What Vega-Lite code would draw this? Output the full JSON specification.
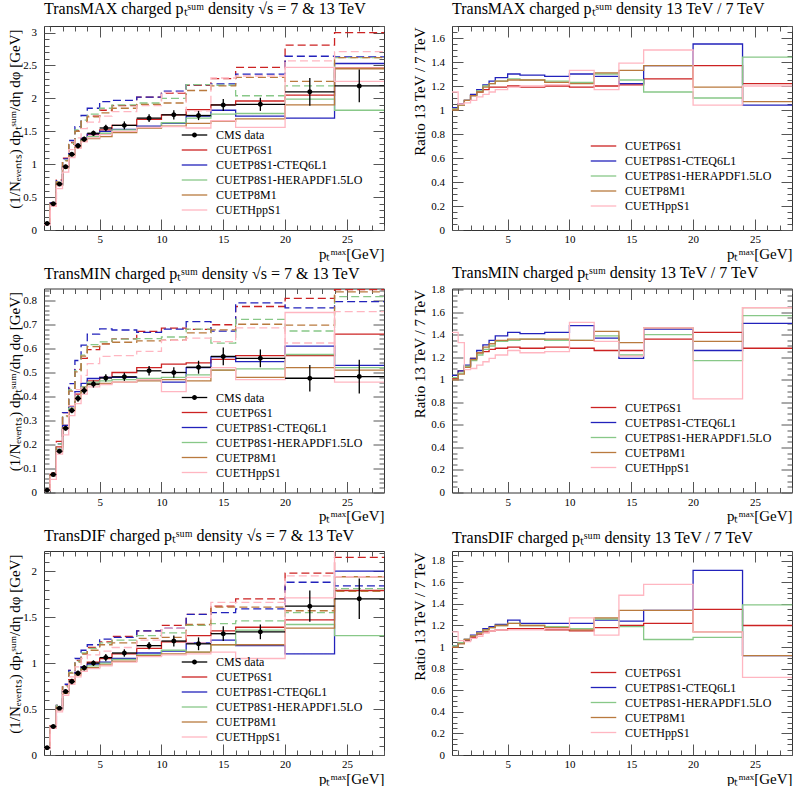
{
"$schema":"https://vega.github.io/schema/vega-lite/v6.json",
"background":"white",
"padding":{"left":6,"top":0,"right":0,"bottom":0},
"bounds":"flush",
"columns":2,
"spacing":{"row":58.5,"column":68},
"config":{
 "font":"Liberation Serif",
 "view":{"stroke":"#333","strokeWidth":1},
 "axis":{"domain":false,"grid":false,"tickColor":"#555","tickWidth":1,"labelFont":"Liberation Serif","labelFontSize":11,"labelColor":"#000","titleFont":"Liberation Serif","titleFontSize":15,"titleFontWeight":"normal","titleColor":"#000","labelFlush":false,"labelOverlap":false,"labelBound":false},
 "legend":{"labelFont":"Liberation Serif","labelFontSize":12,"labelColor":"#000","padding":0,"rowPadding":0,"symbolSize":225,"labelOffset":13,"orient":"none","symbolStrokeWidth":1.3},
 "title":{"font":"Liberation Serif","fontSize":16,"fontWeight":"normal","anchor":"start","color":"#000","frame":"group","offset":3}
},
"datasets":{
"max":[
{"x":0.5,"a7":0.10,"a13":0.10,"b7":0.10,"b13":0.10,"c7":0.10,"c13":0.10,"d7":0.10,"d13":0.10,"e7":0.08,"e13":0.09},
{"x":1,"a7":0.39,"a13":0.41,"b7":0.39,"b13":0.41,"c7":0.38,"c13":0.40,"d7":0.38,"d13":0.40,"e7":0.36,"e13":0.38},
{"x":1.5,"a7":0.70,"a13":0.76,"b7":0.69,"b13":0.75,"c7":0.68,"c13":0.73,"d7":0.68,"d13":0.73,"e7":0.63,"e13":0.67},
{"x":2,"a7":0.97,"a13":1.09,"b7":0.96,"b13":1.08,"c7":0.95,"c13":1.06,"d7":0.94,"d13":1.05,"e7":0.88,"e13":0.95},
{"x":2.5,"a7":1.16,"a13":1.33,"b7":1.16,"b13":1.36,"c7":1.14,"c13":1.32,"d7":1.13,"d13":1.30,"e7":1.10,"e13":1.22},
{"x":3,"a7":1.29,"a13":1.51,"b7":1.30,"b13":1.57,"c7":1.27,"c13":1.52,"d7":1.26,"d13":1.50,"e7":1.24,"e13":1.40},
{"x":3.5,"a7":1.39,"a13":1.65,"b7":1.40,"b13":1.74,"c7":1.37,"c13":1.67,"d7":1.35,"d13":1.65,"e7":1.34,"e13":1.54},
{"x":4,"a7":1.45,"a13":1.73,"b7":1.46,"b13":1.85,"c7":1.42,"c13":1.76,"d7":1.39,"d13":1.72,"e7":1.40,"e13":1.64},
{"x":5,"a7":1.52,"a13":1.82,"b7":1.50,"b13":1.95,"c7":1.47,"c13":1.85,"d7":1.42,"d13":1.78,"e7":1.45,"e13":1.73},
{"x":6,"a7":1.59,"a13":1.89,"b7":1.53,"b13":1.97,"c7":1.52,"c13":1.90,"d7":1.48,"d13":1.85,"e7":1.50,"e13":1.80},
{"x":8,"a7":1.68,"a13":2.02,"b7":1.58,"b13":2.02,"c7":1.56,"c13":1.93,"d7":1.55,"d13":1.91,"e7":1.56,"e13":1.89},
{"x":10,"a7":1.75,"a13":2.08,"b7":1.62,"b13":2.11,"c7":1.63,"c13":2.00,"d7":1.58,"d13":1.93,"e7":1.57,"e13":2.09},
{"x":12,"a7":1.83,"a13":2.20,"b7":1.73,"b13":2.21,"c7":1.70,"c13":2.21,"d7":1.62,"d13":2.12,"e7":1.55,"e13":1.81},
{"x":14,"a7":1.90,"a13":2.30,"b7":1.82,"b13":2.22,"c7":1.76,"c13":2.20,"d7":1.65,"d13":2.19,"e7":1.66,"e13":2.31},
{"x":16,"a7":1.96,"a13":2.47,"b7":1.73,"b13":2.37,"c7":1.77,"c13":2.04,"d7":1.69,"d13":2.32,"e7":1.56,"e13":2.34},
{"x":20,"a7":2.05,"a13":2.81,"b7":1.70,"b13":2.64,"c7":1.99,"c13":2.19,"d7":1.90,"d13":2.26,"e7":2.47,"e13":2.57},
{"x":24,"a7":2.46,"a13":3.00,"b7":2.53,"b13":2.63,"c7":1.82,"c13":2.62,"d7":2.45,"d13":2.62,"e7":2.26,"e13":2.71},
{"x":28,"a7":2.46,"a13":3.00,"b7":2.53,"b13":2.63,"c7":1.82,"c13":2.62,"d7":2.45,"d13":2.62,"e7":2.26,"e13":2.71}
],
"maxr":[
{"x":0.5,"a":1.01,"b":1.02,"c":1.01,"d":1.00,"e":1.15},
{"x":1,"a":1.05,"b":1.05,"c":1.04,"d":1.04,"e":1.05},
{"x":1.5,"a":1.08,"b":1.08,"c":1.08,"d":1.08,"e":1.06},
{"x":2,"a":1.12,"b":1.13,"c":1.12,"d":1.12,"e":1.08},
{"x":2.5,"a":1.15,"b":1.17,"c":1.16,"d":1.15,"e":1.11},
{"x":3,"a":1.17,"b":1.21,"c":1.20,"d":1.19,"e":1.13},
{"x":3.5,"a":1.19,"b":1.24,"c":1.22,"d":1.22,"e":1.15},
{"x":4,"a":1.19,"b":1.27,"c":1.24,"d":1.24,"e":1.17},
{"x":5,"a":1.20,"b":1.30,"c":1.26,"d":1.25,"e":1.19},
{"x":6,"a":1.19,"b":1.29,"c":1.25,"d":1.25,"e":1.20},
{"x":8,"a":1.20,"b":1.28,"c":1.24,"d":1.23,"e":1.21},
{"x":10,"a":1.19,"b":1.30,"c":1.23,"d":1.22,"e":1.33},
{"x":12,"a":1.20,"b":1.28,"c":1.30,"d":1.31,"e":1.17},
{"x":14,"a":1.21,"b":1.22,"c":1.25,"d":1.33,"e":1.39},
{"x":16,"a":1.26,"b":1.37,"c":1.15,"d":1.37,"e":1.50},
{"x":20,"a":1.37,"b":1.55,"c":1.10,"d":1.19,"e":1.04},
{"x":24,"a":1.22,"b":1.04,"c":1.44,"d":1.07,"e":1.20},
{"x":28,"a":1.22,"b":1.04,"c":1.44,"d":1.07,"e":1.20}
],
"min":[
{"x":0.5,"a7":0.010,"a13":0.010,"b7":0.010,"b13":0.010,"c7":0.010,"c13":0.010,"d7":0.010,"d13":0.010,"e7":0.008,"e13":0.011},
{"x":1,"a7":0.075,"a13":0.081,"b7":0.070,"b13":0.076,"c7":0.070,"c13":0.074,"d7":0.070,"d13":0.074,"e7":0.055,"e13":0.073},
{"x":1.5,"a7":0.19,"a13":0.213,"b7":0.18,"b13":0.203,"c7":0.18,"c13":0.202,"d7":0.17,"d13":0.189,"e7":0.16,"e13":0.174},
{"x":2,"a7":0.28,"a13":0.333,"b7":0.28,"b13":0.333,"c7":0.27,"c13":0.316,"d7":0.27,"d13":0.319,"e7":0.24,"e13":0.264},
{"x":2.5,"a7":0.35,"a13":0.434,"b7":0.36,"b13":0.454,"c7":0.35,"c13":0.427,"d7":0.34,"d13":0.422,"e7":0.32,"e13":0.362},
{"x":3,"a7":0.41,"a13":0.513,"b7":0.42,"b13":0.550,"c7":0.40,"c13":0.508,"d7":0.39,"d13":0.503,"e7":0.37,"e13":0.429},
{"x":3.5,"a7":0.44,"a13":0.559,"b7":0.455,"b13":0.614,"c7":0.44,"c13":0.572,"d7":0.43,"d13":0.568,"e7":0.41,"e13":0.488},
{"x":4,"a7":0.465,"a13":0.595,"b7":0.475,"b13":0.660,"c7":0.46,"c13":0.616,"d7":0.45,"d13":0.608,"e7":0.44,"e13":0.537},
{"x":5,"a7":0.48,"a13":0.619,"b7":0.48,"b13":0.682,"c7":0.465,"c13":0.628,"d7":0.455,"d13":0.619,"e7":0.45,"e13":0.567},
{"x":6,"a7":0.50,"a13":0.640,"b7":0.48,"b13":0.677,"c7":0.47,"c13":0.639,"d7":0.46,"d13":0.626,"e7":0.46,"e13":0.570},
{"x":8,"a7":0.52,"a13":0.671,"b7":0.47,"b13":0.667,"c7":0.475,"c13":0.641,"d7":0.465,"d13":0.632,"e7":0.47,"e13":0.588},
{"x":10,"a7":0.535,"a13":0.685,"b7":0.46,"b13":0.681,"c7":0.48,"c13":0.648,"d7":0.47,"d13":0.635,"e7":0.42,"e13":0.634},
{"x":12,"a7":0.54,"a13":0.680,"b7":0.52,"b13":0.712,"c7":0.49,"c13":0.681,"d7":0.465,"d13":0.665,"e7":0.48,"e13":0.643},
{"x":14,"a7":0.555,"a13":0.699,"b7":0.565,"b13":0.672,"c7":0.51,"c13":0.622,"d7":0.51,"d13":0.678,"e7":0.52,"e13":0.629},
{"x":16,"a7":0.57,"a13":0.775,"b7":0.545,"b13":0.790,"c7":0.515,"c13":0.721,"d7":0.48,"d13":0.701,"e7":0.47,"e13":0.686},
{"x":20,"a7":0.57,"a13":0.809,"b7":0.61,"b13":0.769,"c7":0.575,"c13":0.673,"d7":0.52,"d13":0.697,"e7":0.75,"e13":0.623},
{"x":24,"a7":0.66,"a13":0.845,"b7":0.53,"b13":0.795,"c7":0.52,"c13":0.816,"d7":0.51,"d13":0.836,"e7":0.46,"e13":0.754},
{"x":28,"a7":0.66,"a13":0.845,"b7":0.53,"b13":0.795,"c7":0.52,"c13":0.816,"d7":0.51,"d13":0.836,"e7":0.46,"e13":0.754}
],
"minr":[
{"x":0.5,"a":1.01,"b":1.04,"c":1.02,"d":1.00,"e":1.42},
{"x":1,"a":1.08,"b":1.08,"c":1.06,"d":1.05,"e":1.33},
{"x":1.5,"a":1.12,"b":1.13,"c":1.12,"d":1.11,"e":1.09},
{"x":2,"a":1.19,"b":1.19,"c":1.17,"d":1.18,"e":1.10},
{"x":2.5,"a":1.24,"b":1.26,"c":1.22,"d":1.24,"e":1.13},
{"x":3,"a":1.25,"b":1.31,"c":1.27,"d":1.29,"e":1.16},
{"x":3.5,"a":1.27,"b":1.35,"c":1.30,"d":1.32,"e":1.19},
{"x":4,"a":1.28,"b":1.39,"c":1.34,"d":1.35,"e":1.22},
{"x":5,"a":1.29,"b":1.42,"c":1.35,"d":1.36,"e":1.26},
{"x":6,"a":1.28,"b":1.41,"c":1.36,"d":1.36,"e":1.24},
{"x":8,"a":1.29,"b":1.42,"c":1.35,"d":1.36,"e":1.25},
{"x":10,"a":1.28,"b":1.48,"c":1.35,"d":1.35,"e":1.51},
{"x":12,"a":1.26,"b":1.37,"c":1.39,"d":1.43,"e":1.34},
{"x":14,"a":1.26,"b":1.19,"c":1.22,"d":1.33,"e":1.21},
{"x":16,"a":1.36,"b":1.45,"c":1.40,"d":1.46,"e":1.46},
{"x":20,"a":1.42,"b":1.26,"c":1.17,"d":1.34,"e":0.83},
{"x":24,"a":1.28,"b":1.50,"c":1.57,"d":1.64,"e":1.64},
{"x":28,"a":1.28,"b":1.50,"c":1.57,"d":1.64,"e":1.64}
],
"dif":[
{"x":0.5,"a7":0.08,"a13":0.08,"b7":0.08,"b13":0.08,"c7":0.08,"c13":0.08,"d7":0.08,"d13":0.08,"e7":0.07,"e13":0.08},
{"x":1,"a7":0.31,"a13":0.32,"b7":0.30,"b13":0.31,"c7":0.30,"c13":0.31,"d7":0.30,"d13":0.31,"e7":0.29,"e13":0.31},
{"x":1.5,"a7":0.51,"a13":0.54,"b7":0.50,"b13":0.54,"c7":0.50,"c13":0.54,"d7":0.49,"d13":0.52,"e7":0.47,"e13":0.49},
{"x":2,"a7":0.70,"a13":0.76,"b7":0.69,"b13":0.77,"c7":0.68,"c13":0.75,"d7":0.67,"d13":0.74,"e7":0.65,"e13":0.70},
{"x":2.5,"a7":0.82,"a13":0.92,"b7":0.81,"b13":0.92,"c7":0.80,"c13":0.90,"d7":0.79,"d13":0.89,"e7":0.77,"e13":0.85},
{"x":3,"a7":0.90,"a13":1.03,"b7":0.90,"b13":1.05,"c7":0.88,"c13":1.02,"d7":0.87,"d13":1.01,"e7":0.85,"e13":0.96},
{"x":3.5,"a7":0.96,"a13":1.10,"b7":0.96,"b13":1.14,"c7":0.94,"c13":1.11,"d7":0.93,"d13":1.10,"e7":0.91,"e13":1.05},
{"x":4,"a7":1.01,"a13":1.17,"b7":0.99,"b13":1.20,"c7":0.97,"c13":1.16,"d7":0.95,"d13":1.14,"e7":0.94,"e13":1.09},
{"x":5,"a7":1.05,"a13":1.23,"b7":1.01,"b13":1.26,"c7":1.00,"c13":1.22,"d7":0.98,"d13":1.20,"e7":0.97,"e13":1.13},
{"x":6,"a7":1.10,"a13":1.29,"b7":1.05,"b13":1.28,"c7":1.04,"c13":1.25,"d7":1.02,"d13":1.22,"e7":1.01,"e13":1.17},
{"x":8,"a7":1.16,"a13":1.35,"b7":1.11,"b13":1.35,"c7":1.09,"c13":1.30,"d7":1.08,"d13":1.27,"e7":1.07,"e13":1.25},
{"x":10,"a7":1.23,"a13":1.41,"b7":1.13,"b13":1.38,"c7":1.14,"c13":1.33,"d7":1.10,"d13":1.28,"e7":1.09,"e13":1.38},
{"x":12,"a7":1.30,"a13":1.53,"b7":1.22,"b13":1.53,"c7":1.12,"c13":1.41,"d7":1.12,"d13":1.42,"e7":1.10,"e13":1.22},
{"x":14,"a7":1.35,"a13":1.62,"b7":1.25,"b13":1.55,"c7":1.20,"c13":1.43,"d7":1.20,"d13":1.61,"e7":1.12,"e13":1.66},
{"x":16,"a7":1.39,"a13":1.70,"b7":1.19,"b13":1.59,"c7":1.36,"c13":1.46,"d7":1.20,"d13":1.61,"e7":1.05,"e13":1.66},
{"x":20,"a7":1.47,"a13":1.98,"b7":1.10,"b13":1.88,"c7":1.42,"c13":1.55,"d7":1.38,"d13":1.57,"e7":1.71,"e13":1.95},
{"x":24,"a7":1.79,"a13":2.15,"b7":2.00,"b13":1.84,"c7":1.30,"c13":1.81,"d7":1.94,"d13":1.78,"e7":2.70,"e13":1.94},
{"x":28,"a7":1.79,"a13":2.15,"b7":2.00,"b13":1.84,"c7":1.30,"c13":1.81,"d7":1.94,"d13":1.78,"e7":2.70,"e13":1.94}
],
"difr":[
{"x":0.5,"a":1.00,"b":1.01,"c":1.01,"d":1.00,"e":1.14},
{"x":1,"a":1.04,"b":1.04,"c":1.04,"d":1.03,"e":1.06},
{"x":1.5,"a":1.06,"b":1.07,"c":1.07,"d":1.07,"e":1.05},
{"x":2,"a":1.09,"b":1.11,"c":1.10,"d":1.10,"e":1.08},
{"x":2.5,"a":1.12,"b":1.14,"c":1.13,"d":1.13,"e":1.10},
{"x":3,"a":1.14,"b":1.17,"c":1.16,"d":1.16,"e":1.13},
{"x":3.5,"a":1.15,"b":1.19,"c":1.18,"d":1.18,"e":1.15},
{"x":4,"a":1.16,"b":1.21,"c":1.20,"d":1.20,"e":1.16},
{"x":5,"a":1.17,"b":1.25,"c":1.22,"d":1.22,"e":1.16},
{"x":6,"a":1.17,"b":1.22,"c":1.20,"d":1.20,"e":1.16},
{"x":8,"a":1.16,"b":1.22,"c":1.19,"d":1.18,"e":1.17},
{"x":10,"a":1.15,"b":1.22,"c":1.17,"d":1.16,"e":1.27},
{"x":12,"a":1.18,"b":1.25,"c":1.26,"d":1.27,"e":1.11},
{"x":14,"a":1.20,"b":1.24,"c":1.19,"d":1.34,"e":1.48},
{"x":16,"a":1.22,"b":1.34,"c":1.07,"d":1.34,"e":1.58},
{"x":20,"a":1.35,"b":1.71,"c":1.09,"d":1.14,"e":1.14},
{"x":24,"a":1.20,"b":0.92,"c":1.39,"d":0.92,"e":0.72},
{"x":28,"a":1.20,"b":0.92,"c":1.39,"d":0.92,"e":0.72}
],
"dmax":[
{"x":0.75,"xl":0.5,"xh":1,"y":0.10,"yl":0.09,"yh":0.11},
{"x":1.25,"xl":1,"xh":1.5,"y":0.40,"yl":0.385,"yh":0.415},
{"x":1.75,"xl":1.5,"xh":2,"y":0.70,"yl":0.68,"yh":0.72},
{"x":2.25,"xl":2,"xh":2.5,"y":0.96,"yl":0.93,"yh":0.99},
{"x":2.75,"xl":2.5,"xh":3,"y":1.15,"yl":1.12,"yh":1.18},
{"x":3.25,"xl":3,"xh":3.5,"y":1.28,"yl":1.24,"yh":1.32},
{"x":3.75,"xl":3.5,"xh":4,"y":1.38,"yl":1.34,"yh":1.42},
{"x":4.5,"xl":4,"xh":5,"y":1.47,"yl":1.43,"yh":1.51},
{"x":5.5,"xl":5,"xh":6,"y":1.55,"yl":1.50,"yh":1.60},
{"x":7,"xl":6,"xh":8,"y":1.59,"yl":1.53,"yh":1.65},
{"x":9,"xl":8,"xh":10,"y":1.70,"yl":1.64,"yh":1.76},
{"x":11,"xl":10,"xh":12,"y":1.75,"yl":1.68,"yh":1.82},
{"x":13,"xl":12,"xh":14,"y":1.74,"yl":1.67,"yh":1.81},
{"x":15,"xl":14,"xh":16,"y":1.90,"yl":1.81,"yh":1.99},
{"x":18,"xl":16,"xh":20,"y":1.91,"yl":1.81,"yh":2.01},
{"x":22,"xl":20,"xh":24,"y":2.10,"yl":1.89,"yh":2.31},
{"x":26,"xl":24,"xh":28,"y":2.19,"yl":1.94,"yh":2.44}
],
"dmin":[
{"x":0.75,"xl":0.5,"xh":1,"y":0.010,"yl":0.007,"yh":0.013},
{"x":1.25,"xl":1,"xh":1.5,"y":0.075,"yl":0.070,"yh":0.080},
{"x":1.75,"xl":1.5,"xh":2,"y":0.172,"yl":0.164,"yh":0.180},
{"x":2.25,"xl":2,"xh":2.5,"y":0.268,"yl":0.258,"yh":0.278},
{"x":2.75,"xl":2.5,"xh":3,"y":0.342,"yl":0.330,"yh":0.354},
{"x":3.25,"xl":3,"xh":3.5,"y":0.392,"yl":0.378,"yh":0.406},
{"x":3.75,"xl":3.5,"xh":4,"y":0.425,"yl":0.410,"yh":0.440},
{"x":4.5,"xl":4,"xh":5,"y":0.452,"yl":0.437,"yh":0.467},
{"x":5.5,"xl":5,"xh":6,"y":0.477,"yl":0.461,"yh":0.493},
{"x":7,"xl":6,"xh":8,"y":0.482,"yl":0.465,"yh":0.499},
{"x":9,"xl":8,"xh":10,"y":0.507,"yl":0.487,"yh":0.527},
{"x":11,"xl":10,"xh":12,"y":0.500,"yl":0.478,"yh":0.522},
{"x":13,"xl":12,"xh":14,"y":0.522,"yl":0.495,"yh":0.549},
{"x":15,"xl":14,"xh":16,"y":0.567,"yl":0.530,"yh":0.604},
{"x":18,"xl":16,"xh":20,"y":0.559,"yl":0.522,"yh":0.596},
{"x":22,"xl":20,"xh":24,"y":0.476,"yl":0.421,"yh":0.531},
{"x":26,"xl":24,"xh":28,"y":0.483,"yl":0.413,"yh":0.553}
],
"ddif":[
{"x":0.75,"xl":0.5,"xh":1,"y":0.08,"yl":0.07,"yh":0.09},
{"x":1.25,"xl":1,"xh":1.5,"y":0.31,"yl":0.30,"yh":0.32},
{"x":1.75,"xl":1.5,"xh":2,"y":0.51,"yl":0.49,"yh":0.53},
{"x":2.25,"xl":2,"xh":2.5,"y":0.69,"yl":0.67,"yh":0.71},
{"x":2.75,"xl":2.5,"xh":3,"y":0.80,"yl":0.77,"yh":0.83},
{"x":3.25,"xl":3,"xh":3.5,"y":0.89,"yl":0.86,"yh":0.92},
{"x":3.75,"xl":3.5,"xh":4,"y":0.95,"yl":0.92,"yh":0.98},
{"x":4.5,"xl":4,"xh":5,"y":1.00,"yl":0.97,"yh":1.03},
{"x":5.5,"xl":5,"xh":6,"y":1.06,"yl":1.02,"yh":1.10},
{"x":7,"xl":6,"xh":8,"y":1.11,"yl":1.07,"yh":1.15},
{"x":9,"xl":8,"xh":10,"y":1.19,"yl":1.15,"yh":1.23},
{"x":11,"xl":10,"xh":12,"y":1.24,"yl":1.18,"yh":1.30},
{"x":13,"xl":12,"xh":14,"y":1.21,"yl":1.14,"yh":1.28},
{"x":15,"xl":14,"xh":16,"y":1.32,"yl":1.24,"yh":1.40},
{"x":18,"xl":16,"xh":20,"y":1.34,"yl":1.26,"yh":1.42},
{"x":22,"xl":20,"xh":24,"y":1.62,"yl":1.45,"yh":1.79},
{"x":26,"xl":24,"xh":28,"y":1.70,"yl":1.48,"yh":1.92}
]
},
"resolve":{"scale":{"x":"independent","y":"independent","color":"independent","shape":"independent","strokeDash":"independent"},"legend":{"color":"independent","shape":"independent"},"axis":{"x":"independent","y":"independent"}},
"concat":[
{"width":340,"height":204,
 "title":{"text":"TransMAX charged pₜˢᵘᵐ density √s = 7 & 13 TeV"},
 "resolve":{"axis":{"x":"independent","y":"independent"}},
 "layer":[
  {"data":{"name":"max"},"transform":[{"fold":["a7","a13","b7","b13","c7","c13","d7","d13","e7","e13"],"as":["k","v"]}],
   "mark":{"type":"line","interpolate":"step-after","strokeWidth":1.3,"clip":true},
   "encoding":{
    "x":{"field":"x","type":"quantitative","scale":{"domain":[0.5,28],"nice":false,"zero":false},
      "axis":{"values":[1,2,3,4,5,6,7,8,9,10,11,12,13,14,15,16,17,18,19,20,21,22,23,24,25,26,27,28],"tickSize":{"condition":{"test":"datum.value % 5 == 0","value":-11},"value":-5},"labelExpr":"datum.value % 5 == 0 ? datum.label : ''","labelPadding":14.5,"title":"pₜᵐᵃˣ[GeV]","titleAnchor":"end","titleAlign":"right","titleBaseline":"alphabetic","titleY":28}},
    "y":{"field":"v","type":"quantitative","scale":{"domain":[0,3.1],"nice":false},
      "axis":{"values":[0,0.1,0.2,0.3,0.4,0.5,0.6,0.7,0.8,0.9,1,1.1,1.2,1.3,1.4,1.5,1.6,1.7,1.8,1.9,2,2.1,2.2,2.3,2.4,2.5,2.6,2.7,2.8,2.9,3,3.1],"format":"~g","tickSize":{"condition":{"test":"abs(datum.value*2-round(datum.value*2))<0.001","value":-11},"value":-5},"labelExpr":"abs(datum.value*2-round(datum.value*2))<0.001 ? datum.label : ''","labelPadding":18.5,"title":"(1/Nₑᵥₑₙₜₛ) dpₜˢᵘᵐ/dη dφ [GeV]","titleAnchor":"end","titleAlign":"right","titleBaseline":"alphabetic","titleX":-25,"titleY":3}},
    "color":{"field":"k","type":"nominal","scale":{"domain":["CMS data","a7","a13","b7","b13","c7","c13","d7","d13","e7","e13"],"range":["#000000","#cc2222","#cc2222","#2222bb","#2222bb","#88c888","#88c888","#b97a3e","#b97a3e","#ffb6c1","#ffb6c1"]},
      "legend":{"values":["CMS data","a7","b7","c7","d7","e7"],"title":null,"legendX":142,"legendY":100.5,"symbolType":"M-1.7,0H1.7","labelExpr":"datum.label=='a7'?'CUETP6S1':datum.label=='b7'?'CUETP8S1-CTEQ6L1':datum.label=='c7'?'CUETP8S1-HERAPDF1.5LO':datum.label=='d7'?'CUETP8M1':datum.label=='e7'?'CUETHppS1':datum.label"}},
    "strokeDash":{"field":"k","type":"nominal","scale":{"domain":["a7","a13","b7","b13","c7","c13","d7","d13","e7","e13"],"range":[[1,0],[8,4],[1,0],[8,4],[1,0],[8,4],[1,0],[8,4],[1,0],[8,4]]},"legend":null}
   }},
  {"data":{"name":"dmax"},"mark":{"type":"rule","strokeWidth":1.3},
   "encoding":{"x":{"field":"xl","type":"quantitative","axis":null},"x2":{"field":"xh"},"y":{"field":"y","type":"quantitative","axis":null},"color":{"datum":"CMS data","type":"nominal"}}},
  {"data":{"name":"dmax"},"mark":{"type":"rule","color":"black","strokeWidth":1.3},
   "encoding":{"x":{"field":"x","type":"quantitative","axis":null},"y":{"field":"yl","type":"quantitative","axis":null},"y2":{"field":"yh"}}},
  {"data":{"name":"dmax"},"mark":{"type":"point","filled":true,"opacity":1,"color":"black","size":225},
   "encoding":{
    "x":{"field":"x","type":"quantitative","axis":{"orient":"top","values":[1,2,3,4,5,6,7,8,9,10,11,12,13,14,15,16,17,18,19,20,21,22,23,24,25,26,27,28],"tickSize":{"condition":{"test":"datum.value % 5 == 0","value":-11},"value":-5},"labels":false,"title":null}},
    "y":{"field":"y","type":"quantitative","axis":{"orient":"right","values":[0,0.1,0.2,0.3,0.4,0.5,0.6,0.7,0.8,0.9,1,1.1,1.2,1.3,1.4,1.5,1.6,1.7,1.8,1.9,2,2.1,2.2,2.3,2.4,2.5,2.6,2.7,2.8,2.9,3,3.1],"tickSize":{"condition":{"test":"abs(datum.value*2-round(datum.value*2))<0.001","value":-11},"value":-5},"labels":false,"title":null}},
    "shape":{"datum":"CMS data","scale":{"domain":["CMS data"],"range":["M-1.7,0H1.7M-0.33,0A0.33,0.33 0 1,0 0.33,0A0.33,0.33 0 1,0 -0.33,0"]},
      "legend":{"title":null,"legendX":142,"legendY":100.5,"labelExpr":"''"}}
   }}
 ]},
{"width":340,"height":204,
 "title":{"text":"TransMAX charged pₜˢᵘᵐ density 13 TeV / 7 TeV"},
 "resolve":{"axis":{"x":"independent","y":"independent"}},
 "layer":[
  {"data":{"name":"maxr"},"transform":[{"fold":["a","b","c","d"],"as":["k","v"]}],
   "mark":{"type":"line","interpolate":"step-after","strokeWidth":1.3,"clip":true},
   "encoding":{
    "x":{"field":"x","type":"quantitative","scale":{"domain":[0.5,28],"nice":false,"zero":false},
      "axis":{"values":[1,2,3,4,5,6,7,8,9,10,11,12,13,14,15,16,17,18,19,20,21,22,23,24,25,26,27,28],"tickSize":{"condition":{"test":"datum.value % 5 == 0","value":-11},"value":-5},"labelExpr":"datum.value % 5 == 0 ? datum.label : ''","labelPadding":14.5,"title":"pₜᵐᵃˣ[GeV]","titleAnchor":"end","titleAlign":"right","titleBaseline":"alphabetic","titleY":28}},
    "y":{"field":"v","type":"quantitative","scale":{"domain":[0,1.7],"nice":false},
      "axis":{"values":[0,0.05,0.1,0.15,0.2,0.25,0.3,0.35,0.4,0.45,0.5,0.55,0.6,0.65,0.7,0.75,0.8,0.85,0.9,0.95,1,1.05,1.1,1.15,1.2,1.25,1.3,1.35,1.4,1.45,1.5,1.55,1.6,1.65,1.7],"format":"~g","tickSize":{"condition":{"test":"abs(datum.value*5-round(datum.value*5))<0.001","value":-11},"value":-5},"labelExpr":"abs(datum.value*5-round(datum.value*5))<0.001 ? datum.label : ''","labelPadding":18.5,"title":"Ratio 13 TeV / 7 TeV","titleAnchor":"end","titleAlign":"right","titleBaseline":"alphabetic","titleX":-28,"titleY":1}},
    "color":{"field":"k","type":"nominal","scale":{"domain":["a","b","c","d","e"],"range":["#cc2222","#2222bb","#88c888","#b97a3e","#ffb6c1"]},
      "legend":{"title":null,"legendX":143,"legendY":111.5,"symbolType":"M-1.7,0H1.7","labelExpr":"datum.label=='a'?'CUETP6S1':datum.label=='b'?'CUETP8S1-CTEQ6L1':datum.label=='c'?'CUETP8S1-HERAPDF1.5LO':datum.label=='d'?'CUETP8M1':'CUETHppS1'"}}
   }},
  {"data":{"name":"maxr"},"transform":[{"fold":["e"],"as":["k","v"]}],
   "mark":{"type":"line","interpolate":"step-after","strokeWidth":1.3,"clip":true},
   "encoding":{
    "x":{"field":"x","type":"quantitative","axis":{"orient":"top","values":[1,2,3,4,5,6,7,8,9,10,11,12,13,14,15,16,17,18,19,20,21,22,23,24,25,26,27,28],"tickSize":{"condition":{"test":"datum.value % 5 == 0","value":-11},"value":-5},"labels":false,"title":null}},
    "y":{"field":"v","type":"quantitative","axis":{"orient":"right","values":[0,0.05,0.1,0.15,0.2,0.25,0.3,0.35,0.4,0.45,0.5,0.55,0.6,0.65,0.7,0.75,0.8,0.85,0.9,0.95,1,1.05,1.1,1.15,1.2,1.25,1.3,1.35,1.4,1.45,1.5,1.55,1.6,1.65,1.7],"tickSize":{"condition":{"test":"abs(datum.value*5-round(datum.value*5))<0.001","value":-11},"value":-5},"labels":false,"title":null}},
    "color":{"field":"k","type":"nominal"}
   }}
 ]},
{"width":340,"height":204,
 "title":{"text":"TransMIN charged pₜˢᵘᵐ density √s = 7 & 13 TeV"},
 "resolve":{"axis":{"x":"independent","y":"independent"}},
 "layer":[
  {"data":{"name":"min"},"transform":[{"fold":["a7","a13","b7","b13","c7","c13","d7","d13","e7","e13"],"as":["k","v"]}],
   "mark":{"type":"line","interpolate":"step-after","strokeWidth":1.3,"clip":true},
   "encoding":{
    "x":{"field":"x","type":"quantitative","scale":{"domain":[0.5,28],"nice":false,"zero":false},
      "axis":{"values":[1,2,3,4,5,6,7,8,9,10,11,12,13,14,15,16,17,18,19,20,21,22,23,24,25,26,27,28],"tickSize":{"condition":{"test":"datum.value % 5 == 0","value":-11},"value":-5},"labelExpr":"datum.value % 5 == 0 ? datum.label : ''","labelPadding":14.5,"title":"pₜᵐᵃˣ[GeV]","titleAnchor":"end","titleAlign":"right","titleBaseline":"alphabetic","titleY":28}},
    "y":{"field":"v","type":"quantitative","scale":{"domain":[0,0.85],"nice":false},
      "axis":{"values":[0,0.02,0.04,0.06,0.08,0.1,0.12,0.14,0.16,0.18,0.2,0.22,0.24,0.26,0.28,0.3,0.32,0.34,0.36,0.38,0.4,0.42,0.44,0.46,0.48,0.5,0.52,0.54,0.56,0.58,0.6,0.62,0.64,0.66,0.68,0.7,0.72,0.74,0.76,0.78,0.8,0.82,0.84],"format":"~g","tickSize":{"condition":{"test":"abs(datum.value*10-round(datum.value*10))<0.001","value":-11},"value":-5},"labelExpr":"abs(datum.value*10-round(datum.value*10))<0.001 ? datum.label : ''","labelPadding":18.5,"title":"(1/Nₑᵥₑₙₜₛ) dpₜˢᵘᵐ/dη dφ [GeV]","titleAnchor":"end","titleAlign":"right","titleBaseline":"alphabetic","titleX":-25,"titleY":3}},
    "color":{"field":"k","type":"nominal","scale":{"domain":["CMS data","a7","a13","b7","b13","c7","c13","d7","d13","e7","e13"],"range":["#000000","#cc2222","#cc2222","#2222bb","#2222bb","#88c888","#88c888","#b97a3e","#b97a3e","#ffb6c1","#ffb6c1"]},
      "legend":{"values":["CMS data","a7","b7","c7","d7","e7"],"title":null,"legendX":142,"legendY":100.5,"symbolType":"M-1.7,0H1.7","labelExpr":"datum.label=='a7'?'CUETP6S1':datum.label=='b7'?'CUETP8S1-CTEQ6L1':datum.label=='c7'?'CUETP8S1-HERAPDF1.5LO':datum.label=='d7'?'CUETP8M1':datum.label=='e7'?'CUETHppS1':datum.label"}},
    "strokeDash":{"field":"k","type":"nominal","scale":{"domain":["a7","a13","b7","b13","c7","c13","d7","d13","e7","e13"],"range":[[1,0],[8,4],[1,0],[8,4],[1,0],[8,4],[1,0],[8,4],[1,0],[8,4]]},"legend":null}
   }},
  {"data":{"name":"dmin"},"mark":{"type":"rule","strokeWidth":1.3},
   "encoding":{"x":{"field":"xl","type":"quantitative","axis":null},"x2":{"field":"xh"},"y":{"field":"y","type":"quantitative","axis":null},"color":{"datum":"CMS data","type":"nominal"}}},
  {"data":{"name":"dmin"},"mark":{"type":"rule","color":"black","strokeWidth":1.3},
   "encoding":{"x":{"field":"x","type":"quantitative","axis":null},"y":{"field":"yl","type":"quantitative","axis":null},"y2":{"field":"yh"}}},
  {"data":{"name":"dmin"},"mark":{"type":"point","filled":true,"opacity":1,"color":"black","size":225},
   "encoding":{
    "x":{"field":"x","type":"quantitative","axis":{"orient":"top","values":[1,2,3,4,5,6,7,8,9,10,11,12,13,14,15,16,17,18,19,20,21,22,23,24,25,26,27,28],"tickSize":{"condition":{"test":"datum.value % 5 == 0","value":-11},"value":-5},"labels":false,"title":null}},
    "y":{"field":"y","type":"quantitative","axis":{"orient":"right","values":[0,0.02,0.04,0.06,0.08,0.1,0.12,0.14,0.16,0.18,0.2,0.22,0.24,0.26,0.28,0.3,0.32,0.34,0.36,0.38,0.4,0.42,0.44,0.46,0.48,0.5,0.52,0.54,0.56,0.58,0.6,0.62,0.64,0.66,0.68,0.7,0.72,0.74,0.76,0.78,0.8,0.82,0.84],"tickSize":{"condition":{"test":"abs(datum.value*10-round(datum.value*10))<0.001","value":-11},"value":-5},"labels":false,"title":null}},
    "shape":{"datum":"CMS data","scale":{"domain":["CMS data"],"range":["M-1.7,0H1.7M-0.33,0A0.33,0.33 0 1,0 0.33,0A0.33,0.33 0 1,0 -0.33,0"]},
      "legend":{"title":null,"legendX":142,"legendY":100.5,"labelExpr":"''"}}
   }}
 ]},
{"width":340,"height":204,
 "title":{"text":"TransMIN charged pₜˢᵘᵐ density 13 TeV / 7 TeV"},
 "resolve":{"axis":{"x":"independent","y":"independent"}},
 "layer":[
  {"data":{"name":"minr"},"transform":[{"fold":["a","b","c","d"],"as":["k","v"]}],
   "mark":{"type":"line","interpolate":"step-after","strokeWidth":1.3,"clip":true},
   "encoding":{
    "x":{"field":"x","type":"quantitative","scale":{"domain":[0.5,28],"nice":false,"zero":false},
      "axis":{"values":[1,2,3,4,5,6,7,8,9,10,11,12,13,14,15,16,17,18,19,20,21,22,23,24,25,26,27,28],"tickSize":{"condition":{"test":"datum.value % 5 == 0","value":-11},"value":-5},"labelExpr":"datum.value % 5 == 0 ? datum.label : ''","labelPadding":14.5,"title":"pₜᵐᵃˣ[GeV]","titleAnchor":"end","titleAlign":"right","titleBaseline":"alphabetic","titleY":28}},
    "y":{"field":"v","type":"quantitative","scale":{"domain":[0,1.81],"nice":false},
      "axis":{"values":[0,0.05,0.1,0.15,0.2,0.25,0.3,0.35,0.4,0.45,0.5,0.55,0.6,0.65,0.7,0.75,0.8,0.85,0.9,0.95,1,1.05,1.1,1.15,1.2,1.25,1.3,1.35,1.4,1.45,1.5,1.55,1.6,1.65,1.7,1.75,1.8],"format":"~g","tickSize":{"condition":{"test":"abs(datum.value*5-round(datum.value*5))<0.001","value":-11},"value":-5},"labelExpr":"abs(datum.value*5-round(datum.value*5))<0.001 ? datum.label : ''","labelPadding":18.5,"title":"Ratio 13 TeV / 7 TeV","titleAnchor":"end","titleAlign":"right","titleBaseline":"alphabetic","titleX":-28,"titleY":1}},
    "color":{"field":"k","type":"nominal","scale":{"domain":["a","b","c","d","e"],"range":["#cc2222","#2222bb","#88c888","#b97a3e","#ffb6c1"]},
      "legend":{"title":null,"legendX":143,"legendY":110.5,"symbolType":"M-1.7,0H1.7","labelExpr":"datum.label=='a'?'CUETP6S1':datum.label=='b'?'CUETP8S1-CTEQ6L1':datum.label=='c'?'CUETP8S1-HERAPDF1.5LO':datum.label=='d'?'CUETP8M1':'CUETHppS1'"}}
   }},
  {"data":{"name":"minr"},"transform":[{"fold":["e"],"as":["k","v"]}],
   "mark":{"type":"line","interpolate":"step-after","strokeWidth":1.3,"clip":true},
   "encoding":{
    "x":{"field":"x","type":"quantitative","axis":{"orient":"top","values":[1,2,3,4,5,6,7,8,9,10,11,12,13,14,15,16,17,18,19,20,21,22,23,24,25,26,27,28],"tickSize":{"condition":{"test":"datum.value % 5 == 0","value":-11},"value":-5},"labels":false,"title":null}},
    "y":{"field":"v","type":"quantitative","axis":{"orient":"right","values":[0,0.05,0.1,0.15,0.2,0.25,0.3,0.35,0.4,0.45,0.5,0.55,0.6,0.65,0.7,0.75,0.8,0.85,0.9,0.95,1,1.05,1.1,1.15,1.2,1.25,1.3,1.35,1.4,1.45,1.5,1.55,1.6,1.65,1.7,1.75,1.8],"tickSize":{"condition":{"test":"abs(datum.value*5-round(datum.value*5))<0.001","value":-11},"value":-5},"labels":false,"title":null}},
    "color":{"field":"k","type":"nominal"}
   }}
 ]},
{"width":340,"height":204,
 "title":{"text":"TransDIF charged pₜˢᵘᵐ density √s = 7 & 13 TeV"},
 "resolve":{"axis":{"x":"independent","y":"independent"}},
 "layer":[
  {"data":{"name":"dif"},"transform":[{"fold":["a7","a13","b7","b13","c7","c13","d7","d13","e7","e13"],"as":["k","v"]}],
   "mark":{"type":"line","interpolate":"step-after","strokeWidth":1.3,"clip":true},
   "encoding":{
    "x":{"field":"x","type":"quantitative","scale":{"domain":[0.5,28],"nice":false,"zero":false},
      "axis":{"values":[1,2,3,4,5,6,7,8,9,10,11,12,13,14,15,16,17,18,19,20,21,22,23,24,25,26,27,28],"tickSize":{"condition":{"test":"datum.value % 5 == 0","value":-11},"value":-5},"labelExpr":"datum.value % 5 == 0 ? datum.label : ''","labelPadding":14.5,"title":"pₜᵐᵃˣ[GeV]","titleAnchor":"end","titleAlign":"right","titleBaseline":"alphabetic","titleY":28}},
    "y":{"field":"v","type":"quantitative","scale":{"domain":[0,2.22],"nice":false},
      "axis":{"values":[0,0.1,0.2,0.3,0.4,0.5,0.6,0.7,0.8,0.9,1,1.1,1.2,1.3,1.4,1.5,1.6,1.7,1.8,1.9,2,2.1,2.2],"format":"~g","tickSize":{"condition":{"test":"abs(datum.value*2-round(datum.value*2))<0.001","value":-11},"value":-5},"labelExpr":"abs(datum.value*2-round(datum.value*2))<0.001 ? datum.label : ''","labelPadding":18.5,"title":"(1/Nₑᵥₑₙₜₛ) dpₜˢᵘᵐ/dη dφ [GeV]","titleAnchor":"end","titleAlign":"right","titleBaseline":"alphabetic","titleX":-25,"titleY":3}},
    "color":{"field":"k","type":"nominal","scale":{"domain":["CMS data","a7","a13","b7","b13","c7","c13","d7","d13","e7","e13"],"range":["#000000","#cc2222","#cc2222","#2222bb","#2222bb","#88c888","#88c888","#b97a3e","#b97a3e","#ffb6c1","#ffb6c1"]},
      "legend":{"values":["CMS data","a7","b7","c7","d7","e7"],"title":null,"legendX":142,"legendY":102.5,"symbolType":"M-1.7,0H1.7","labelExpr":"datum.label=='a7'?'CUETP6S1':datum.label=='b7'?'CUETP8S1-CTEQ6L1':datum.label=='c7'?'CUETP8S1-HERAPDF1.5LO':datum.label=='d7'?'CUETP8M1':datum.label=='e7'?'CUETHppS1':datum.label"}},
    "strokeDash":{"field":"k","type":"nominal","scale":{"domain":["a7","a13","b7","b13","c7","c13","d7","d13","e7","e13"],"range":[[1,0],[8,4],[1,0],[8,4],[1,0],[8,4],[1,0],[8,4],[1,0],[8,4]]},"legend":null}
   }},
  {"data":{"name":"ddif"},"mark":{"type":"rule","strokeWidth":1.3},
   "encoding":{"x":{"field":"xl","type":"quantitative","axis":null},"x2":{"field":"xh"},"y":{"field":"y","type":"quantitative","axis":null},"color":{"datum":"CMS data","type":"nominal"}}},
  {"data":{"name":"ddif"},"mark":{"type":"rule","color":"black","strokeWidth":1.3},
   "encoding":{"x":{"field":"x","type":"quantitative","axis":null},"y":{"field":"yl","type":"quantitative","axis":null},"y2":{"field":"yh"}}},
  {"data":{"name":"ddif"},"mark":{"type":"point","filled":true,"opacity":1,"color":"black","size":225},
   "encoding":{
    "x":{"field":"x","type":"quantitative","axis":{"orient":"top","values":[1,2,3,4,5,6,7,8,9,10,11,12,13,14,15,16,17,18,19,20,21,22,23,24,25,26,27,28],"tickSize":{"condition":{"test":"datum.value % 5 == 0","value":-11},"value":-5},"labels":false,"title":null}},
    "y":{"field":"y","type":"quantitative","axis":{"orient":"right","values":[0,0.1,0.2,0.3,0.4,0.5,0.6,0.7,0.8,0.9,1,1.1,1.2,1.3,1.4,1.5,1.6,1.7,1.8,1.9,2,2.1,2.2],"tickSize":{"condition":{"test":"abs(datum.value*2-round(datum.value*2))<0.001","value":-11},"value":-5},"labels":false,"title":null}},
    "shape":{"datum":"CMS data","scale":{"domain":["CMS data"],"range":["M-1.7,0H1.7M-0.33,0A0.33,0.33 0 1,0 0.33,0A0.33,0.33 0 1,0 -0.33,0"]},
      "legend":{"title":null,"legendX":142,"legendY":102.5,"labelExpr":"''"}}
   }}
 ]},
{"width":340,"height":204,
 "title":{"text":"TransDIF charged pₜˢᵘᵐ density 13 TeV / 7 TeV"},
 "resolve":{"axis":{"x":"independent","y":"independent"}},
 "layer":[
  {"data":{"name":"difr"},"transform":[{"fold":["a","b","c","d"],"as":["k","v"]}],
   "mark":{"type":"line","interpolate":"step-after","strokeWidth":1.3,"clip":true},
   "encoding":{
    "x":{"field":"x","type":"quantitative","scale":{"domain":[0.5,28],"nice":false,"zero":false},
      "axis":{"values":[1,2,3,4,5,6,7,8,9,10,11,12,13,14,15,16,17,18,19,20,21,22,23,24,25,26,27,28],"tickSize":{"condition":{"test":"datum.value % 5 == 0","value":-11},"value":-5},"labelExpr":"datum.value % 5 == 0 ? datum.label : ''","labelPadding":14.5,"title":"pₜᵐᵃˣ[GeV]","titleAnchor":"end","titleAlign":"right","titleBaseline":"alphabetic","titleY":28}},
    "y":{"field":"v","type":"quantitative","scale":{"domain":[0,1.89],"nice":false},
      "axis":{"values":[0,0.05,0.1,0.15,0.2,0.25,0.3,0.35,0.4,0.45,0.5,0.55,0.6,0.65,0.7,0.75,0.8,0.85,0.9,0.95,1,1.05,1.1,1.15,1.2,1.25,1.3,1.35,1.4,1.45,1.5,1.55,1.6,1.65,1.7,1.75,1.8,1.85],"format":"~g","tickSize":{"condition":{"test":"abs(datum.value*5-round(datum.value*5))<0.001","value":-11},"value":-5},"labelExpr":"abs(datum.value*5-round(datum.value*5))<0.001 ? datum.label : ''","labelPadding":18.5,"title":"Ratio 13 TeV / 7 TeV","titleAnchor":"end","titleAlign":"right","titleBaseline":"alphabetic","titleX":-28,"titleY":1}},
    "color":{"field":"k","type":"nominal","scale":{"domain":["a","b","c","d","e"],"range":["#cc2222","#2222bb","#88c888","#b97a3e","#ffb6c1"]},
      "legend":{"title":null,"legendX":143,"legendY":113,"symbolType":"M-1.7,0H1.7","labelExpr":"datum.label=='a'?'CUETP6S1':datum.label=='b'?'CUETP8S1-CTEQ6L1':datum.label=='c'?'CUETP8S1-HERAPDF1.5LO':datum.label=='d'?'CUETP8M1':'CUETHppS1'"}}
   }},
  {"data":{"name":"difr"},"transform":[{"fold":["e"],"as":["k","v"]}],
   "mark":{"type":"line","interpolate":"step-after","strokeWidth":1.3,"clip":true},
   "encoding":{
    "x":{"field":"x","type":"quantitative","axis":{"orient":"top","values":[1,2,3,4,5,6,7,8,9,10,11,12,13,14,15,16,17,18,19,20,21,22,23,24,25,26,27,28],"tickSize":{"condition":{"test":"datum.value % 5 == 0","value":-11},"value":-5},"labels":false,"title":null}},
    "y":{"field":"v","type":"quantitative","axis":{"orient":"right","values":[0,0.05,0.1,0.15,0.2,0.25,0.3,0.35,0.4,0.45,0.5,0.55,0.6,0.65,0.7,0.75,0.8,0.85,0.9,0.95,1,1.05,1.1,1.15,1.2,1.25,1.3,1.35,1.4,1.45,1.5,1.55,1.6,1.65,1.7,1.75,1.8,1.85],"tickSize":{"condition":{"test":"abs(datum.value*5-round(datum.value*5))<0.001","value":-11},"value":-5},"labels":false,"title":null}},
    "color":{"field":"k","type":"nominal"}
   }}
 ]}
]
}
